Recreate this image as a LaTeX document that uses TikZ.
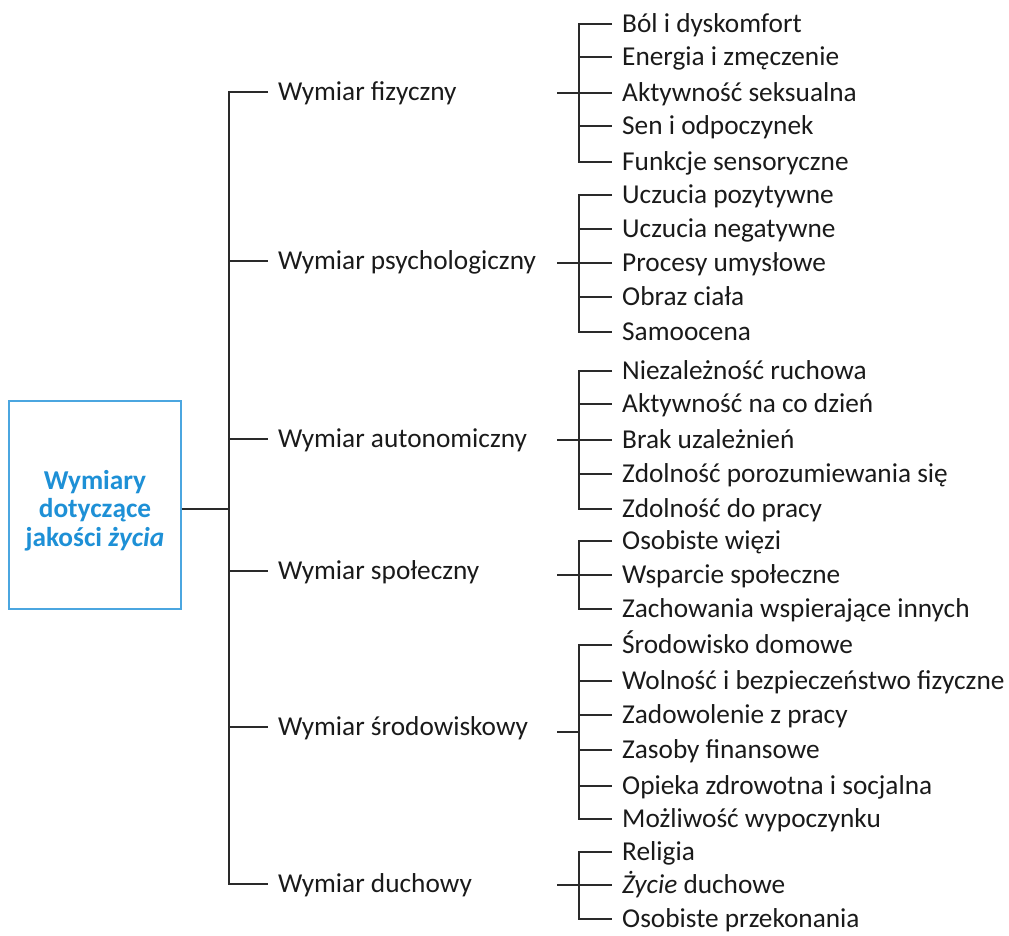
\documentclass[tikz,border=0pt]{standalone}
\usepackage{fontspec}
\setmainfont{Carlito}
\definecolor{boxblue}{HTML}{4BA6E0}
\definecolor{rootblue}{HTML}{1E90D6}
\definecolor{linegray}{HTML}{2A2A2A}
\definecolor{txt}{HTML}{1A1A1A}
\tikzset{
  conn/.style={draw=linegray, line width=1.3pt},
  item/.style={anchor=west, inner xsep=10pt, inner ysep=0pt, text height=17.6pt, text depth=0pt,
    font=\fontsize{27.3}{31}\selectfont, text=txt},
  dim/.style={item},
  rootbox/.style={draw=boxblue, line width=1.3pt, minimum width=172pt, minimum height=208pt,
    inner sep=0pt, align=center, text=rootblue, font=\fontsize{27.3}{28.5}\selectfont\bfseries}
}
\begin{document}
\begin{tikzpicture}[x=1pt,y=-1pt]
\useasboundingbox (0,0) rectangle (1009,936);

% root
\node[rootbox] (root) at (95,505) {\rule{0pt}{30pt}Wymiary\\dotyczące\\jakości \textit{życia}};
\coordinate (trunk) at (229,509);

% level 2
\node[dim] (d1) at (268,92) {Wymiar fizyczny};
\node[dim] (d2) at (268,261) {Wymiar psychologiczny};
\node[dim] (d3) at (268,439) {Wymiar autonomiczny};
\node[dim] (d4) at (268,571) {Wymiar społeczny};
\node[dim] (d5) at (268,727) {Wymiar środowiskowy};
\node[dim] (d6) at (268,884) {Wymiar duchowy};

% level 3
\node[item] (a1) at (612,24) {Ból i dyskomfort};
\node[item] (a2) at (612,57) {Energia i zmęczenie};
\node[item] (a3) at (612,93) {Aktywność seksualna};
\node[item] (a4) at (612,126) {Sen i odpoczynek};
\node[item] (a5) at (612,162) {Funkcje sensoryczne};

\node[item] (b1) at (612,195) {Uczucia pozytywne};
\node[item] (b2) at (612,229) {Uczucia negatywne};
\node[item] (b3) at (612,263) {Procesy umysłowe};
\node[item] (b4) at (612,297) {Obraz ciała};
\node[item] (b5) at (612,332) {Samoocena};

\node[item] (c1) at (612,371) {Niezależność ruchowa};
\node[item] (c2) at (612,404) {Aktywność na co dzień};
\node[item] (c3) at (612,440) {Brak uzależnień};
\node[item] (c4) at (612,474) {Zdolność porozumiewania się};
\node[item] (c5) at (612,509) {Zdolność do pracy};

\node[item] (e1) at (612,541) {Osobiste więzi};
\node[item] (e2) at (612,575) {Wsparcie społeczne};
\node[item] (e3) at (612,609) {Zachowania wspierające innych};

\node[item] (f1) at (612,645) {Środowisko domowe};
\node[item] (f2) at (612,681) {Wolność i bezpieczeństwo fizyczne};
\node[item] (f3) at (612,715) {Zadowolenie z pracy};
\node[item] (f4) at (612,750) {Zasoby finansowe};
\node[item] (f5) at (612,786) {Opieka zdrowotna i socjalna};
\node[item] (f6) at (612,819) {Możliwość wypoczynku};

\node[item] (g1) at (612,852) {Religia};
\node[item] (g2) at (612,885) {\textit{Życie} duchowe};
\node[item] (g3) at (612,919) {Osobiste przekonania};

% bracket junctions and stub ends
\coordinate (sa) at (579,93);  \coordinate (ta) at (557,93);
\coordinate (sb) at (579,263); \coordinate (tb) at (557,263);
\coordinate (sc) at (579,440); \coordinate (tc) at (557,440);
\coordinate (se) at (579,575); \coordinate (te) at (557,575);
\coordinate (sf) at (579,732); \coordinate (tf) at (557,732);
\coordinate (sg) at (579,885); \coordinate (tg) at (557,885);

% trunk
\draw[conn] (root.east |- trunk) -- (trunk);
\draw[conn] (d1.west) -| (trunk) |- (d6.west);
\foreach \n in {d2,d3,d4,d5} \draw[conn] (trunk |- \n.west) -- (\n.west);

% brackets
\draw[conn] (a1.west) -| (sa) |- (a5.west);
\foreach \n in {a2,a3,a4} \draw[conn] (sa |- \n.west) -- (\n.west);
\draw[conn] (ta) -- (sa);

\draw[conn] (b1.west) -| (sb) |- (b5.west);
\foreach \n in {b2,b3,b4} \draw[conn] (sb |- \n.west) -- (\n.west);
\draw[conn] (tb) -- (sb);

\draw[conn] (c1.west) -| (sc) |- (c5.west);
\foreach \n in {c2,c3,c4} \draw[conn] (sc |- \n.west) -- (\n.west);
\draw[conn] (tc) -- (sc);

\draw[conn] (e1.west) -| (se) |- (e3.west);
\draw[conn] (se |- e2.west) -- (e2.west);
\draw[conn] (te) -- (se);

\draw[conn] (f1.west) -| (sf) |- (f6.west);
\foreach \n in {f2,f3,f4,f5} \draw[conn] (sf |- \n.west) -- (\n.west);
\draw[conn] (tf) -- (sf);

\draw[conn] (g1.west) -| (sg) |- (g3.west);
\draw[conn] (sg |- g2.west) -- (g2.west);
\draw[conn] (tg) -- (sg);
\end{tikzpicture}
\end{document}
